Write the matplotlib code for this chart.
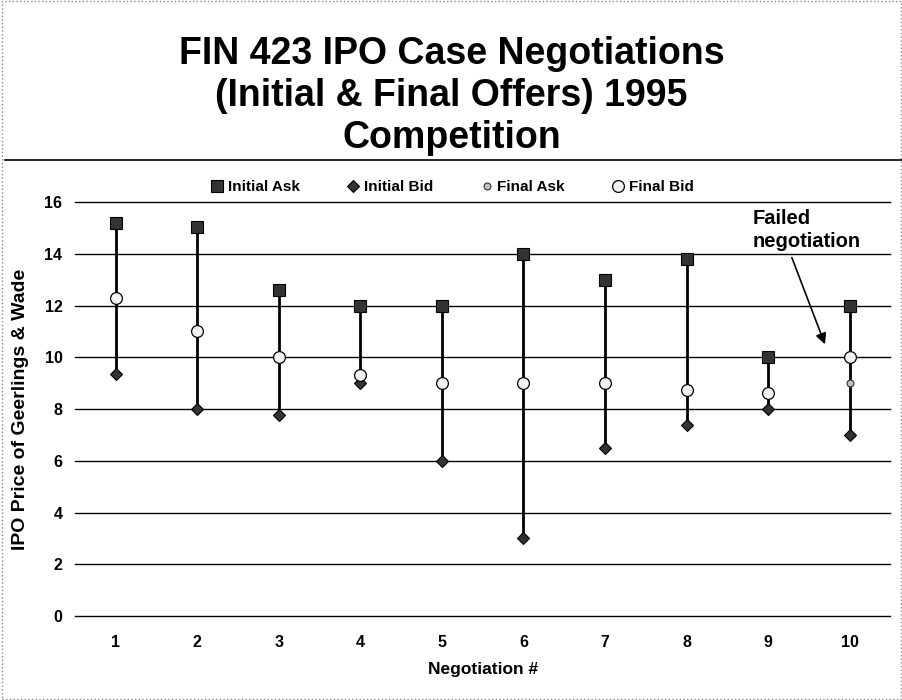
#!/usr/bin/env python3
"""FIN 423 IPO case negotiations: initial and final offers, hi-lo style."""

import matplotlib

matplotlib.use("Agg")

import matplotlib.pyplot as plt
from matplotlib.lines import Line2D
from matplotlib.patches import Rectangle
import numpy as np

plt.rcParams["font.family"] = ["Liberation Sans", "DejaVu Sans"]
plt.rcParams["font.weight"] = "bold"

negotiations = ["1", "2", "3", "4", "5", "6", "7", "8", "9", "10"]
initial_ask = [15.2, 15.05, 12.6, 12.0, 12.0, 14.0, 13.0, 13.8, 10.0, 12.0]
initial_bid = [9.35, 8.0, 7.75, 9.0, 6.0, 3.0, 6.5, 7.4, 8.0, 7.0]
final_ask = [12.3, 11.0, 10.0, 9.3, 9.0, 9.0, 9.0, 8.75, 8.6, 9.0]
final_bid = [12.3, 11.0, 10.0, 9.3, 9.0, 9.0, 9.0, 8.75, 8.6, 10.0]
y_ticks = [0, 2, 4, 6, 8, 10, 12, 14, 16]

fig = plt.figure(figsize=(9.03, 7.0), dpi=100)
ax = fig.add_axes([0.083, 0.12, 0.903, 0.5914])

x = np.arange(1, len(negotiations) + 1)
highs = np.max([initial_ask, initial_bid, final_ask, final_bid], axis=0)
lows = np.min([initial_ask, initial_bid, final_ask, final_bid], axis=0)
ax.vlines(x, lows, highs, color="black", lw=2.0, zorder=3)

ax.plot(x, initial_ask, ls="none", marker="s", ms=8.5, mfc="#333333", mec="black",
        mew=0.8, zorder=4, label="Initial Ask")
ax.plot(x, initial_bid, ls="none", marker="D", ms=6.5, mfc="#333333", mec="black",
        mew=0.8, zorder=4, label="Initial Bid")
ax.plot(x, final_ask, ls="none", marker="o", ms=5, mfc="#c0c0c0", mec="#333333",
        mew=0.8, zorder=5, label="Final Ask")
ax.plot(x, final_bid, ls="none", marker="o", ms=8.5, mfc="#f2f2f2", mec="black",
        mew=0.9, zorder=6, label="Final Bid")

ax.set_xlim(0.5, len(negotiations) + 0.5)
ax.set_ylim(0, 16)
ax.set_yticks(y_ticks)
ax.set_xticks(x)
ax.set_xticklabels(negotiations)
ax.tick_params(axis="both", length=0, labelsize=11.5)
ax.tick_params(axis="x", pad=14)
ax.tick_params(axis="y", pad=9)
for label in ax.get_xticklabels() + ax.get_yticklabels():
    label.set_fontweight("bold")
ax.grid(axis="y", color="black", lw=1.0)
for gl in ax.get_ygridlines():
    gl.set_clip_on(False)
ax.set_axisbelow(True)
for side in ("left", "right", "top", "bottom"):
    ax.spines[side].set_visible(False)

ax.set_xlabel("Negotiation #", fontsize=12.5, fontweight="bold", labelpad=8)
ax.set_ylabel("IPO Price of Geerlings & Wade", fontsize=14, fontweight="bold", labelpad=11)

ax.annotate("", xy=(9.71, 10.4), xytext=(9.28, 13.95),
            arrowprops=dict(arrowstyle="-|>", color="black", lw=1.2, mutation_scale=16))
ax.text(8.81, 14.92, "Failed\nnegotiation", fontsize=14.5, fontweight="bold",
        ha="left", va="center", linespacing=1.25)

ax.legend(loc="lower center", bbox_to_anchor=(0.463, 0.985), ncol=4, frameon=False,
          handlelength=0.8, handletextpad=0.3, columnspacing=3.1,
          prop={"weight": "bold", "size": 11})

fig.text(0.5, 0.863, "FIN 423 IPO Case Negotiations\n(Initial & Final Offers) 1995\nCompetition",
         ha="center", va="center", fontsize=27, fontweight="bold", linespacing=1.22)

fig.add_artist(Line2D([0.006, 1.0], [0.771, 0.771], color="black", lw=1.2,
                      transform=fig.transFigure))
fig.add_artist(Rectangle((0.002, 0.002), 0.996, 0.996, fill=False, ec="#888888",
                         lw=1.0, ls=":", transform=fig.transFigure))

fig.savefig("out.png", dpi=100)
